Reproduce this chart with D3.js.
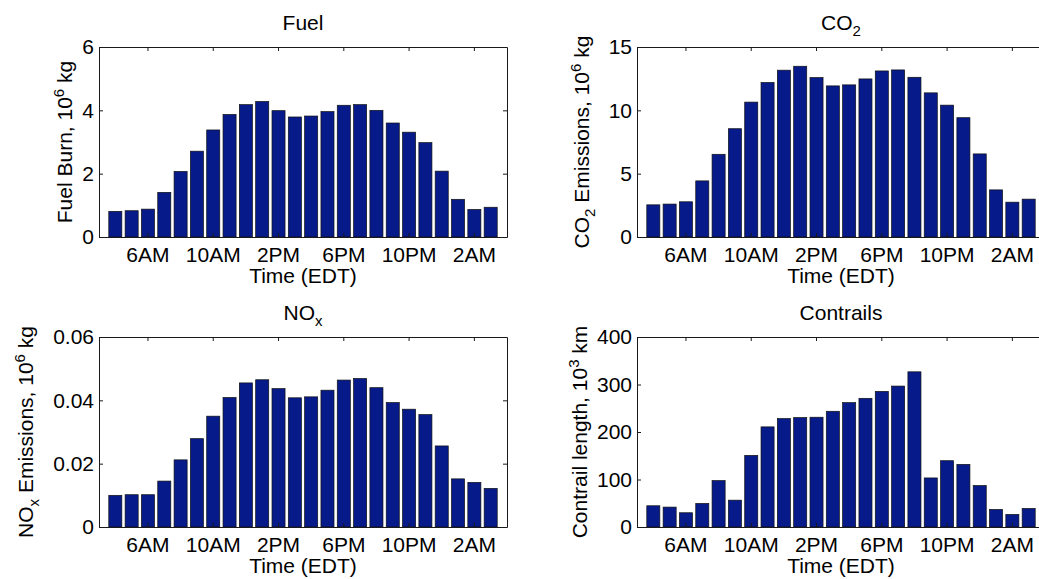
<!DOCTYPE html>
<html>
<head>
<meta charset="utf-8">
<script src="https://cdn.jsdelivr.net/npm/d3@7"></script>
<style>
  body { margin: 0; background: #fff; }
  svg text { font-family: "Liberation Sans", Arial, Helvetica, sans-serif; fill: #000; }
</style>
</head>
<body>
<svg id="chart" width="1039" height="579"></svg>
<script>
// hourly bins, 4AM .. 3AM (EDT)
const hours = ['4AM','5AM','6AM','7AM','8AM','9AM','10AM','11AM','12PM','1PM','2PM','3PM',
               '4PM','5PM','6PM','7PM','8PM','9PM','10PM','11PM','12AM','1AM','2AM','3AM']
const tickHours = ['6AM','10AM','2PM','6PM','10PM','2AM']

const fuel = [0.81,0.83,0.88,1.41,2.07,2.71,3.38,3.87,4.18,4.28,3.99,3.79,
              3.82,3.96,4.16,4.18,4.00,3.60,3.31,2.98,2.08,1.19,0.87,0.94]
const co2 = [2.54,2.60,2.78,4.43,6.53,8.55,10.65,12.20,13.17,13.48,12.59,11.93,
             12.01,12.48,13.11,13.19,12.61,11.38,10.41,9.42,6.56,3.72,2.75,2.99]
const nox = [0.0100,0.0102,0.0102,0.0145,0.0212,0.0279,0.0350,0.0409,0.0455,0.0465,0.0437,0.0408,
             0.0411,0.0432,0.0464,0.0469,0.0440,0.0393,0.0372,0.0355,0.0256,0.0152,0.0141,0.0122]
const contrails = [44.7,41.9,30.0,49.6,97.7,56.5,150.8,210.8,228.3,230.4,231.1,243.6,
                   261.8,270.9,285.5,296.7,326.7,103.3,139.6,131.9,87.3,37.0,26.5,39.1]

const fuelTicks = [0, 2, 4, 6]
const co2Ticks = [0, 5, 10, 15]
const noxTicks = [0, 0.02, 0.04, 0.06]
const contrailTicks = [0, 100, 200, 300, 400]

// text pieces: plain, sub or sup
const panels = [
    { title: [{t: 'Fuel'}],
      ylabel: [{t: 'Fuel Burn, 10'}, {t: '6', sup: true}, {t: ' kg'}],
      values: fuel, ticks: fuelTicks, fmt: d => d,
      left: 99, top: 47, labelX: 72 },
    { title: [{t: 'CO'}, {t: '2', sub: true}],
      ylabel: [{t: 'CO'}, {t: '2', sub: true}, {t: ' Emissions, 10'}, {t: '6', sup: true}, {t: ' kg'}],
      values: co2, ticks: co2Ticks, fmt: d => d,
      left: 637, top: 47, labelX: 589 },
    { title: [{t: 'NO'}, {t: 'x', sub: true}],
      ylabel: [{t: 'NO'}, {t: 'x', sub: true}, {t: ' Emissions, 10'}, {t: '6', sup: true}, {t: ' kg'}],
      values: nox, ticks: noxTicks, fmt: d => d === 0 ? '0' : d3.format('.2f')(d),
      left: 99, top: 337, labelX: 33 },
    { title: [{t: 'Contrails'}],
      ylabel: [{t: 'Contrail length, 10'}, {t: '3', sup: true}, {t: ' km'}],
      values: contrails, ticks: contrailTicks, fmt: d => d,
      left: 637, top: 337, labelX: 587 }
]

const plotW = 408, plotH = 190
const fontSize = 21, smallSize = 15
const barColor = '#071a8a'
const lineColor = '#1a1a1a'

const svg = d3.select('#chart')

function richText(textSel, parts) {
    let shift = 0
    parts.forEach(p => {
        let target = p.sub ? 6 : p.sup ? -8 : 0
        textSel.append('tspan')
            .attr('dy', target - shift)
            .attr('font-size', p.sub || p.sup ? smallSize : fontSize)
            .text(p.t)
        shift = target
    })
}

function styleAxis(g) {
    g.attr('font-size', null).attr('font-family', null)
    g.selectAll('path, line').attr('stroke', lineColor).attr('stroke-width', 1)
    g.selectAll('text').attr('font-size', fontSize)
}

panels.forEach(p => {
    let chart = svg.append('g')
        .attr('transform', `translate(${p.left},${p.top})`)

    // xlim [0,25] with 0.8-wide bars at 1..24
    let x = d3.scaleBand()
        .domain(hours)
        .range([0, plotW])
        .paddingInner(0.2)
        .paddingOuter(0.6)

    let y = d3.scaleLinear()
        .domain(d3.extent(p.ticks))
        .range([plotH, 0])

    chart.selectAll('rect.bar')
        .data(p.values)
        .join('rect')
            .attr('class', 'bar')
            .attr('x', (d, i) => x(hours[i]))
            .attr('y', d => y(d))
            .attr('width', x.bandwidth())
            .attr('height', d => y(0) - y(d))
            .attr('fill', barColor)
            .attr('stroke', '#111')
            .attr('stroke-width', 0.7)

    chart.append('g')
        .attr('transform', `translate(0,${plotH})`)
        .call(d3.axisBottom(x).tickValues(tickHours).tickSizeInner(-4).tickSizeOuter(0).tickPadding(10))
        .call(styleAxis)

    chart.append('g')
        .call(d3.axisTop(x).tickValues(tickHours).tickSizeInner(-4).tickSizeOuter(0).tickFormat(''))
        .call(styleAxis)

    chart.append('g')
        .call(d3.axisLeft(y).tickValues(p.ticks).tickSizeInner(-4).tickSizeOuter(0).tickPadding(5).tickFormat(p.fmt))
        .call(styleAxis)

    chart.append('g')
        .attr('transform', `translate(${plotW},0)`)
        .call(d3.axisRight(y).tickValues(p.ticks).tickSizeInner(-4).tickSizeOuter(0).tickFormat(''))
        .call(styleAxis)

    // title
    richText(chart.append('text')
        .attr('x', plotW / 2)
        .attr('y', -17)
        .attr('text-anchor', 'middle')
        .attr('font-size', fontSize), p.title)

    // x label
    chart.append('text')
        .attr('x', plotW / 2)
        .attr('y', plotH + 46)
        .attr('text-anchor', 'middle')
        .attr('font-size', fontSize)
        .text('Time (EDT)')

    // y label
    richText(svg.append('text')
        .attr('transform', `translate(${p.labelX},${p.top + plotH / 2}) rotate(-90)`)
        .attr('text-anchor', 'middle')
        .attr('font-size', fontSize), p.ylabel)
})
</script>
</body>
</html>
